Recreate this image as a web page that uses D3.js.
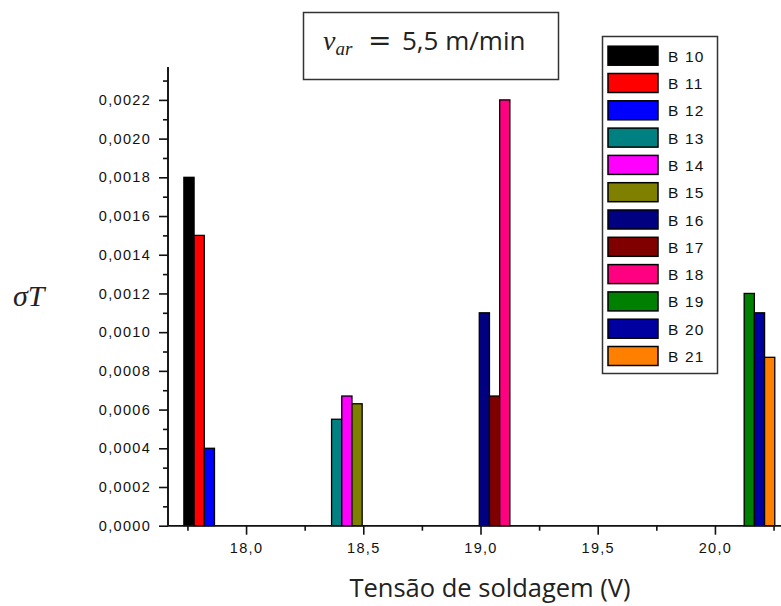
<!DOCTYPE html>
<html>
<head>
<meta charset="utf-8">
<script src="https://cdn.jsdelivr.net/npm/d3@7"></script>
<style>
  html, body { margin: 0; padding: 0; background: #fff; }
  svg { display: block; }
</style>
</head>
<body>
<svg id="chart" width="781" height="606"></svg>
<script>
// ---------------- data ----------------
const seriesNames = ["B 10","B 11","B 12","B 13","B 14","B 15","B 16","B 17","B 18","B 19","B 20","B 21"];
const seriesVoltage = [17.8,17.8,17.8, 18.43,18.43,18.43, 19.06,19.06,19.06, 20.19,20.19,20.19];
const seriesSlot = [0,1,2, 0,1,2, 0,1,2, 0,1,2];
const sigmaT = [0.0018,0.0015,0.0004, 0.00055,0.00067,0.00063, 0.0011,0.00067,0.0022, 0.0012,0.0011,0.00087];
const seriesColors = ["#000000","#ff0000","#0000ff","#008080","#ff00ff","#808000","#000080","#800000","#ff0080","#008000","#0000a0","#ff8000"];
const xMajorTicks = [18.0, 18.5, 19.0, 19.5, 20.0];
const xMinorTicks = [17.75, 18.25, 18.75, 19.25, 19.75, 20.25];
const yMajorTicks = [0,0.0002,0.0004,0.0006,0.0008,0.0010,0.0012,0.0014,0.0016,0.0018,0.0020,0.0022];
const yMinorTicks = [0.0001,0.0003,0.0005,0.0007,0.0009,0.0011,0.0013,0.0015,0.0017,0.0019,0.0021,0.0023];
const xLabel = "Tensão de soldagem (V)";
const yLabel = "σT";

// ---------------- layout ----------------
const svg = d3.select("#chart");
const x = d3.scaleLinear().domain([17.667, 20.333]).range([168, 793]);
const y = d3.scaleLinear().domain([0, 0.00237]).range([525.7, 67]);
const barW = 10.2;
const fmt = v => d3.format(".4f")(v).replace(".", ",");
const fmtX = v => d3.format(".1f")(v).replace(".", ",");
const tickFont = "Liberation Sans, Arial, sans-serif";

// bars
svg.append("g").selectAll("rect").data(sigmaT).join("rect")
  .attr("x", (d,i) => x(seriesVoltage[i]) + (seriesSlot[i] - 1.5) * barW)
  .attr("width", barW)
  .attr("y", d => y(d))
  .attr("height", d => y(0) - y(d))
  .attr("fill", (d,i) => seriesColors[i])
  .attr("stroke", "#000")
  .attr("stroke-width", 1.3);

// x axis
const gx = svg.append("g").attr("transform", `translate(0,${y(0)})`);
gx.call(d3.axisBottom(x).tickValues(xMajorTicks).tickSize(9).tickFormat(fmtX).tickPadding(8));
gx.append("g").call(d3.axisBottom(x).tickValues(xMinorTicks).tickSize(5).tickFormat(""));
gx.selectAll(".domain").attr("stroke-width", 1.6).attr("stroke", "#111");
gx.selectAll(".tick line").attr("stroke-width", 1.6).attr("stroke", "#111");
gx.selectAll(".tick text").attr("font-family", tickFont).attr("font-size", 14.5)
  .attr("letter-spacing", 1.3).attr("fill", "#111");

// y axis
const gy = svg.append("g").attr("transform", `translate(${x(17.667)},0)`);
gy.call(d3.axisLeft(y).tickValues(yMajorTicks).tickSize(9).tickFormat(fmt).tickPadding(8));
gy.append("g").call(d3.axisLeft(y).tickValues(yMinorTicks).tickSize(5).tickFormat(""));
gy.selectAll(".domain").attr("stroke-width", 1.6).attr("stroke", "#111");
gy.selectAll(".tick line").attr("stroke-width", 1.6).attr("stroke", "#111");
gy.selectAll(".tick text").attr("font-family", tickFont).attr("font-size", 14.5)
  .attr("letter-spacing", 1.3).attr("fill", "#111");
// plain domain lines (no end stubs)
gy.selectAll(".domain").attr("d", `M0,${y(0.00237)}V${y(0)}`);
gx.selectAll(".domain").attr("d", `M${x(17.667)},0H781`);

// axis labels
svg.append("text").attr("x", 490).attr("y", 597)
  .attr("text-anchor", "middle").attr("font-family", "Open Sans, sans-serif")
  .attr("font-size", 25.5).attr("fill", "#222").text(xLabel);
svg.append("text").attr("x", 13).attr("y", 306)
  .attr("font-family", "Liberation Serif, serif").attr("font-style", "italic")
  .attr("font-size", 30).attr("fill", "#222").text(yLabel);

// title box
svg.append("rect").attr("x", 303.5).attr("y", 12.5).attr("width", 255).attr("height", 67)
  .attr("fill", "#fff").attr("stroke", "#333").attr("stroke-width", 1.5);
const t = svg.append("text").attr("x", 323).attr("y", 50).attr("fill", "#222");
t.append("tspan").attr("font-family", "Liberation Serif, serif").attr("font-style", "italic")
  .attr("font-size", 28).text("v");
t.append("tspan").attr("font-family", "Liberation Serif, serif").attr("font-style", "italic")
  .attr("font-size", 19).attr("dy", 5).text("ar");
t.append("tspan").attr("font-family", "DejaVu Sans, sans-serif")
  .attr("font-size", 28).attr("x", 368).attr("dy", -5).text("=");
t.append("tspan").attr("font-family", "Open Sans, sans-serif")
  .attr("font-size", 26).attr("x", 402).text("5,5 m/min");

// legend
const lg = svg.append("g");
lg.append("rect").attr("x", 602.5).attr("y", 36.5).attr("width", 115).attr("height", 337)
  .attr("fill", "#fff").attr("stroke", "#333").attr("stroke-width", 1.5);
const rows = lg.selectAll("g.row").data(seriesNames).join("g").attr("class", "row")
  .attr("transform", (d,i) => `translate(0,${55.7 + 27.3 * i})`);
rows.append("rect").attr("x", 608).attr("y", -9.5).attr("width", 50).attr("height", 19)
  .attr("fill", (d,i) => seriesColors[i]).attr("stroke", "#000").attr("stroke-width", 1.5);
rows.append("text").attr("x", 668).attr("y", 6)
  .attr("font-family", tickFont).attr("font-size", 15.5).attr("letter-spacing", 1.2)
  .attr("fill", "#111").text(d => d);
</script>
</body>
</html>
